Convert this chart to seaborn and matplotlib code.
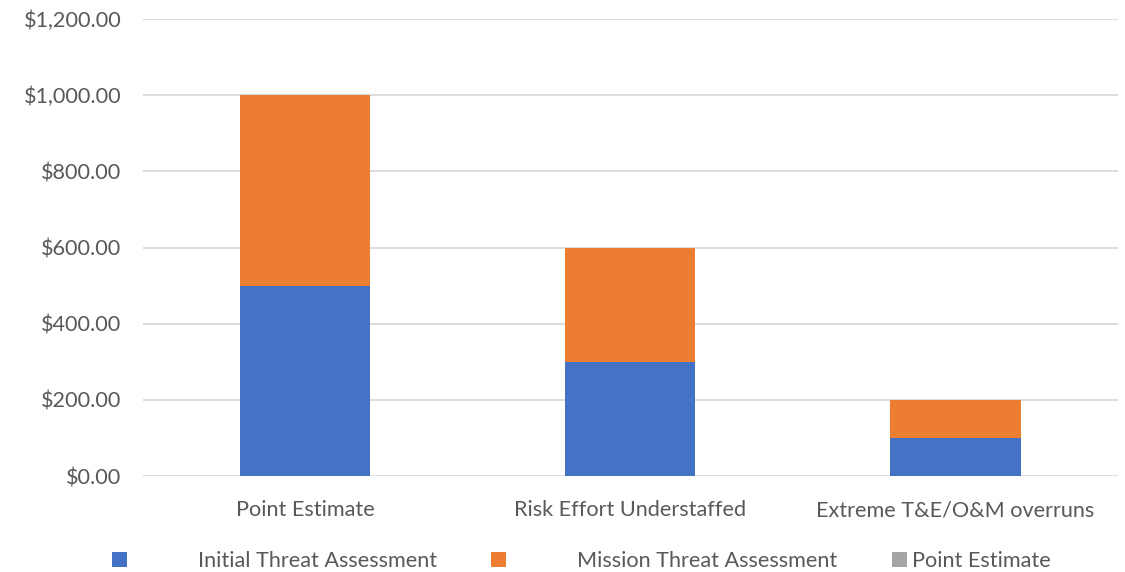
import matplotlib
matplotlib.use("Agg")
import matplotlib.pyplot as plt
from matplotlib.ticker import FuncFormatter, MultipleLocator
from matplotlib.patches import Patch
import pandas as pd
import seaborn as sns

# Data
categories = ["Point Estimate", "Risk Effort Understaffed", "Extreme T&E/O&M overruns"]
initial_threat = [500, 300, 100]
mission_threat = [500, 300, 100]
point_estimate = [0, 0, 0]
series_names = ["Initial Threat Assessment", "Mission Threat Assessment", "Point Estimate"]

BLUE = "#4472C4"
ORANGE = "#ED7D31"
GRAY = "#A5A5A5"
TEXT = "#595959"
GRID = "#D9D9D9"
FS = 15.6

sns.set_theme(style="white")
plt.rcParams["font.family"] = ["Lato", "DejaVu Sans"]

df = pd.DataFrame({
    "category": categories,
    "initial": initial_threat,
    "mission": mission_threat,
    "point": point_estimate,
})
df["lvl2"] = df["initial"] + df["mission"]
df["lvl3"] = df["lvl2"] + df["point"]

fig = plt.figure(figsize=(11.25, 5.72), dpi=100)
ax = fig.add_axes([0.127, 0.1678, 0.8668, 0.799])

# Stacked bars: draw cumulative totals back to front
for col, colour in [("lvl3", GRAY), ("lvl2", ORANGE), ("initial", BLUE)]:
    sns.barplot(data=df, x="category", y=col, color=colour, width=0.4,
                saturation=1, linewidth=0, edgecolor="none", ax=ax, zorder=2)

ax.set_ylim(0, 1200)
ax.set_xlim(-0.5, 2.5)
ax.yaxis.set_major_locator(MultipleLocator(200))
ax.yaxis.set_major_formatter(FuncFormatter(lambda v, p: f"${v:,.2f}"))
ax.grid(axis="y", color=GRID, linewidth=1.3, zorder=0)
ax.set_axisbelow(True)
for s in ax.spines.values():
    s.set_visible(False)
ax.set_xlabel("")
ax.set_ylabel("")
ax.tick_params(axis="both", length=0, labelsize=FS, labelcolor=TEXT)
ax.tick_params(axis="y", pad=15.5)
ax.tick_params(axis="x", pad=17.5)

# Legend entries along the bottom
legend_specs = [
    (series_names[0], BLUE, 0.0996, 3.3),
    (series_names[1], ORANGE, 0.4364, 3.3),
    (series_names[2], GRAY, 0.7929, 0.22),
]
for name, colour, xpos, pad in legend_specs:
    fig.legend(handles=[Patch(facecolor=colour, edgecolor="none")], labels=[name],
               loc="center left", bbox_to_anchor=(xpos, 0.019), frameon=False,
               fontsize=FS, labelcolor=TEXT, handlelength=0.68, handleheight=0.68,
               handletextpad=pad, borderaxespad=0, borderpad=0)

fig.savefig("out.png", dpi=100)
